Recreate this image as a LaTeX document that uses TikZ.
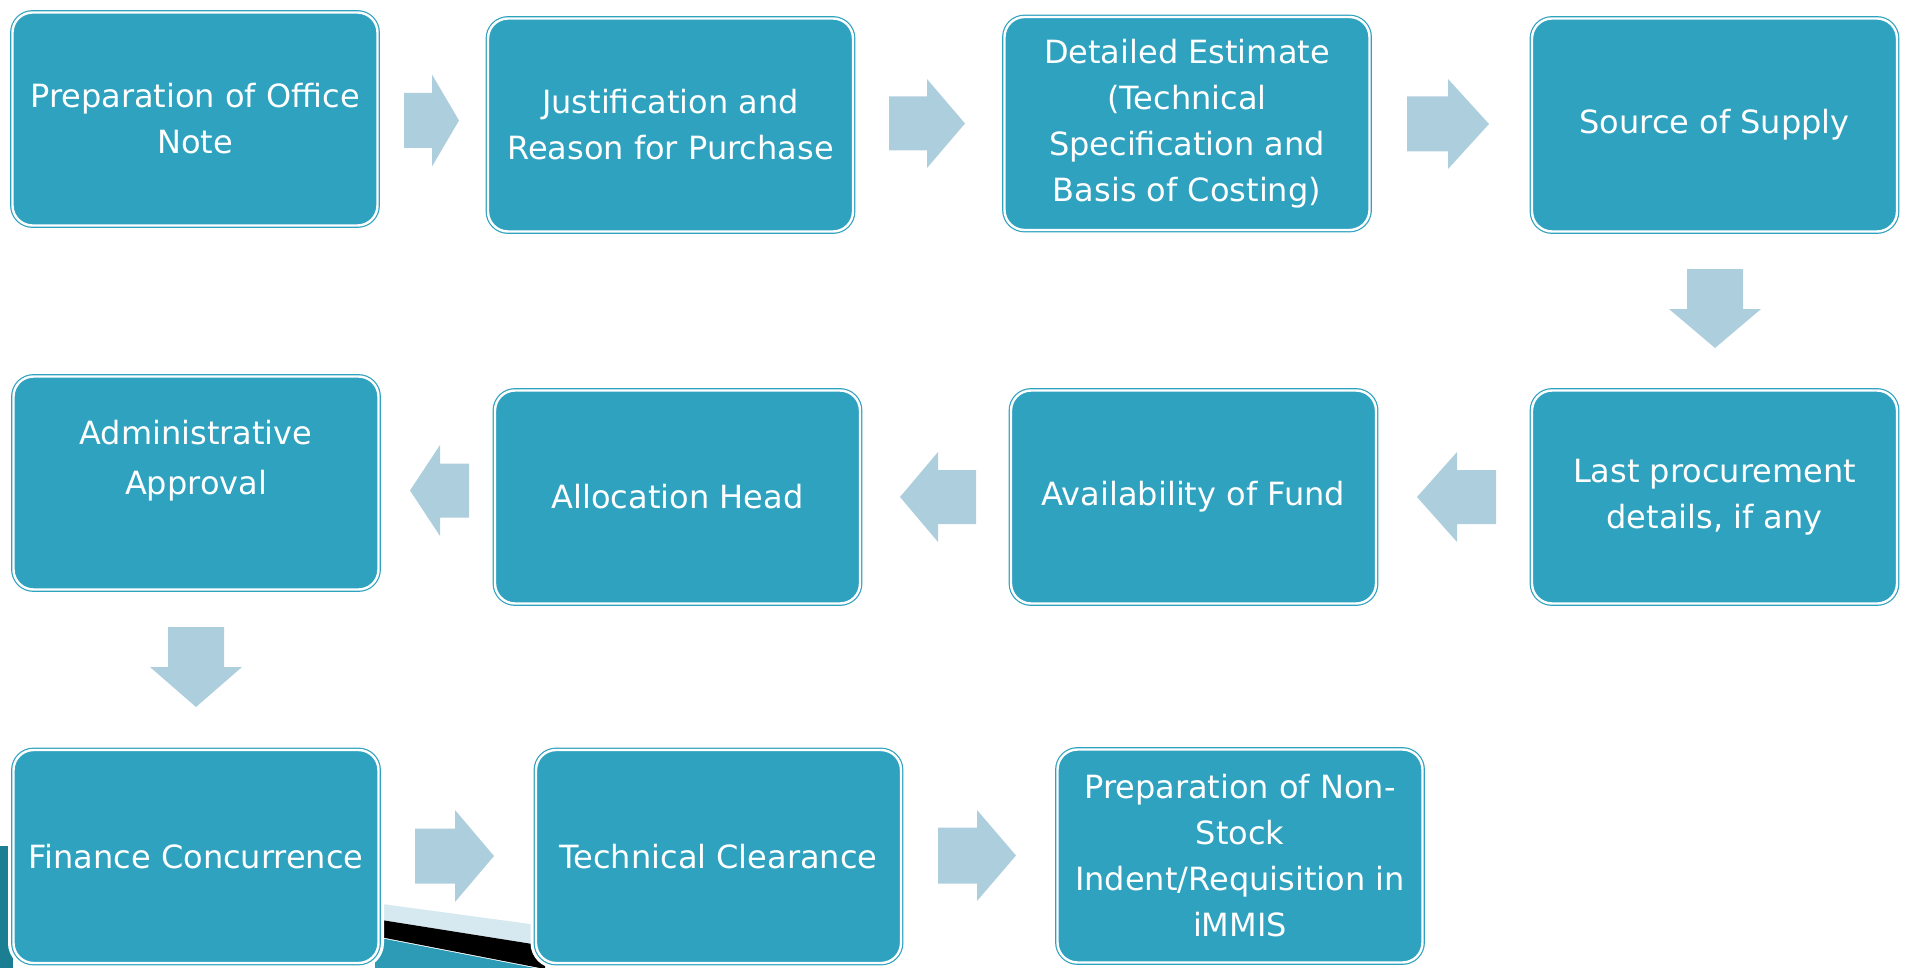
\documentclass[tikz,border=0pt]{standalone}
\usepackage{fontspec}
\setmainfont{DejaVu Sans}
\definecolor{boxc}{HTML}{2EA2BF}
\definecolor{arrowc}{HTML}{ADCEDD}
\definecolor{bandl}{HTML}{D6E9F1}
\definecolor{bandt}{HTML}{2D9BB5}
\definecolor{bandd}{HTML}{1C7E93}
\newcommand\harrow[6]{\fill[arrowc] ({#1},{#4-#5}) -- ({#2},{#4-#5}) -- ({#2},{#4-#6}) -- ({#3},{#4}) -- ({#2},{#4+#6}) -- ({#2},{#4+#5}) -- ({#1},{#4+#5}) -- cycle;}
\newcommand\varrow[6]{\fill[arrowc] ({#4-#5},{#1}) -- ({#4-#5},{#2}) -- ({#4-#6},{#2}) -- ({#4},{#3}) -- ({#4+#6},{#2}) -- ({#4+#5},{#2}) -- ({#4+#5},{#1}) -- cycle;}
\tikzset{
  procbox/.style={rounded corners=20pt, fill=boxc, draw=boxc, double=white, double distance=2.4pt, line width=1.2pt,
    preaction={draw=white, line width=11pt},
    minimum width=365pt, minimum height=213pt, inner sep=0pt, text=white, align=center,
    font=\fontsize{32}{46}\selectfont},
  boxtext/.style={text=white, align=center, inner sep=0pt, font=\fontsize{32}{50}\selectfont}
}
\begin{document}
\begin{tikzpicture}[x=1pt,y=-1pt]
\useasboundingbox (0,0) rectangle (1910,968);
% background decoration (template band)
\fill[bandd] (0,846) -- (13,846) -- (13,968) -- (0,968) -- cycle;
\fill[bandl] (375,903) -- (545,926) -- (545,946) -- (375,919) -- cycle;
\fill[black] (375,919) -- (545,946) -- (545,969) -- (375,936) -- cycle;
\fill[bandt] (375,937) -- (545,970) -- (375,970) -- cycle;
% boxes
\node[procbox] (b1) at (195,119) {Preparation of Office\\Note};
\node[procbox] (b2) at (670.5,125) {Justification and\\Reason for Purchase};
\node[procbox] (b3) at (1187,123.5) {Detailed Estimate\\(Technical\\Specification and\\Basis of Costing)};
\node[procbox] (b4) at (1714.5,125) {Source of Supply};
\node[procbox] (b5) at (1714.5,497) {Last procurement\\details, if any};
\node[procbox] (b6) at (1193.5,497) {Availability of Fund};
\node[procbox] (b7) at (677.5,497) {Allocation Head};
\node[procbox] (b8) at (196,483) {};
\node[boxtext] (b8t) at (196,461) {Administrative\\Approval};
\node[procbox] (b9) at (196,856.5) {Finance Concurrence};
\node[procbox] (b10) at (718.5,856.5) {Technical Clearance};
\node[procbox] (b11) at (1240,856) {Preparation of Non-\\Stock\\Indent/Requisition in\\iMMIS};
% block arrows
\harrow{404}{432}{459}{120.5}{27.5}{46}
\harrow{889}{927}{965}{123.5}{27}{44.5}
\harrow{1407}{1448}{1489}{124}{27.5}{45}
\varrow{269}{309}{348}{1715}{28}{46}
\harrow{1496}{1457}{1417}{497}{27}{45}
\harrow{976}{938}{900}{497}{27}{45}
\harrow{469}{440}{410}{490.5}{27}{45.5}
\varrow{627}{667}{707}{196}{28}{46}
\harrow{415}{455}{494}{856}{27.5}{46}
\harrow{938}{977}{1016}{855.5}{28}{45.5}
\end{tikzpicture}
\end{document}
